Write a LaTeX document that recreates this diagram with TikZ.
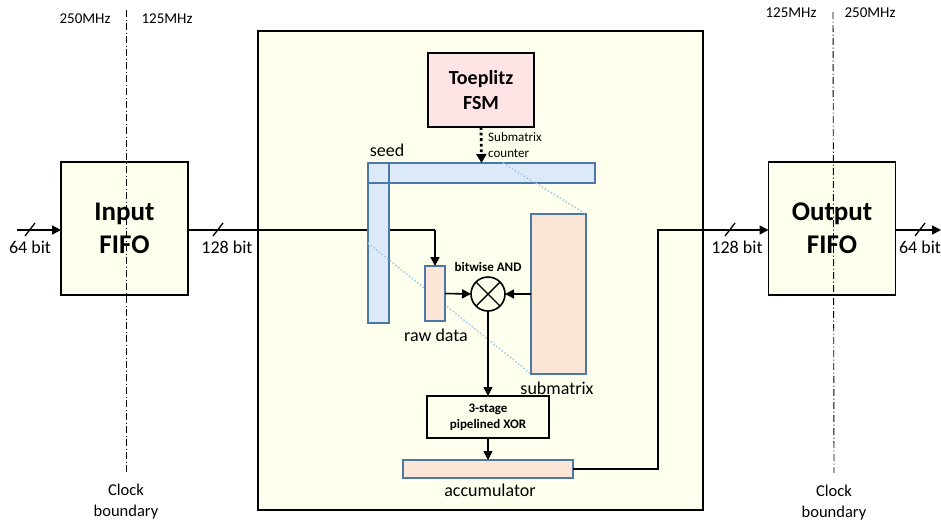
\documentclass[tikz,border=0pt]{standalone}
\usepackage{fontspec}
\setmainfont{Carlito}
\usetikzlibrary{arrows.meta,calc}

\definecolor{cream}{RGB}{255,255,238}
\definecolor{fsmpink}{RGB}{255,228,230}
\definecolor{seedblue}{RGB}{220,233,248}
\definecolor{peach}{RGB}{251,229,214}
\definecolor{edgeblue}{RGB}{75,120,165}
\definecolor{projblue}{RGB}{160,200,235}

\newcommand{\fsz}[2]{\fontsize{#1}{#2}\selectfont}

\tikzset{
  box/.style={draw=black, line width=1.6pt, inner sep=0pt, outer sep=0pt, align=center},
  fifo/.style={box, fill=cream, font=\fsz{27}{33}\bfseries, minimum width=127, minimum height=133},
  reg/.style={draw=edgeblue, line width=1.5pt, inner sep=0pt, outer sep=0pt},
  wire/.style={line width=1.6pt, draw=black},
  arr/.style={wire, -{Triangle[length=9pt,width=9pt]}},
  clockline/.style={line width=0.9pt, dash pattern=on 7pt off 2.5pt on 1pt off 2.5pt},
  busslash/.style={line width=1.3pt},
  lbl/.style={font=\fsz{18}{21}, inner sep=0pt},
  small/.style={font=\fsz{15}{18}, inner sep=0pt},
  tiny/.style={font=\fsz{13}{16}, inner sep=0pt},
  proj/.style={draw=projblue, line width=1.5pt, dash pattern=on 1.5pt off 2pt},
}

\begin{document}
\begin{tikzpicture}[x=1pt,y=-1pt]
\useasboundingbox (0,0) rectangle (941,528);

% core outline
\node[box, line width=2pt, fill=cream, minimum width=445, minimum height=479] (core) at (480.5,270.5) {};

% FIFOs
\node[fifo] (infifo) at (124.5,228.5) {Input\\FIFO};
\node[fifo] (outfifo) at (832,228.5) {Output\\FIFO};

% Toeplitz FSM
\node[box, fill=fsmpink, font=\fsz{20}{25}\bfseries, minimum width=106, minimum height=74] (fsm) at (481,90) {Toeplitz\\FSM};

% input path into the core (drawn below the seed register)
\coordinate (inbend) at (435,230);
\draw[wire] (infifo.east |- inbend) -- (inbend);

% seed register: horizontal and vertical parts
\node[reg, draw=none, fill=seedblue, minimum width=227, minimum height=20] (seedh) at (481.5,173) {};
\node[reg, draw=none, fill=seedblue, minimum width=21, minimum height=160] (seedv) at (378.5,243) {};
\draw[reg] (seedh.north west) rectangle (seedh.south east);
\draw[reg] (seedv.north west) rectangle (seedv.south east);
\node[lbl] (seedlbl) at (387,150) {seed};

% submatrix register and its projection lines
\node[reg, fill=peach, minimum width=55, minimum height=160] (submat) at (558.5,294) {};
\coordinate (projtop) at (503,163);
\coordinate (projbot) at (368,243);
\draw[proj] (projtop) -- (submat.north east);
\draw[proj] (projbot) -- (submat.south west);
\node[lbl] (submatlbl) at (557,388) {submatrix};

% raw data register
\node[reg, fill=peach, minimum width=20, minimum height=55] (raw) at (435,293.5) {};
\node[lbl] (rawlbl) at (436,335) {raw data};
\draw[arr] (inbend) -- (raw.north);

% bitwise AND
\node[draw=black, line width=1.6pt, circle, minimum size=34, inner sep=0pt, outer sep=0pt, fill=cream] (andg) at (488,294) {};
\draw[line width=1.4pt] (andg.north west) -- (andg.south east);
\draw[line width=1.4pt] (andg.north east) -- (andg.south west);
\node[tiny, font=\fsz{13}{16}\bfseries] (andlbl) at (488,267) {bitwise AND};
\draw[arr] (raw.east) -- (andg.west);
\draw[arr] (submat.west) -- (andg.east);

% XOR stage and accumulator
\node[box, font=\fsz{13}{16}\bfseries, minimum width=122, minimum height=42, fill=cream] (xor) at (488,417) {3-stage\\pipelined XOR};
\draw[arr] (andg.south) -- (xor.north);
\node[reg, fill=peach, minimum width=170, minimum height=18] (acc) at (488,469) {};
\node[lbl] (acclbl) at (490,490) {accumulator};
\draw[arr] (xor.south) -- (acc.north);

% FSM drives the submatrix counter
\draw[line width=2.8pt, dash pattern=on 2.8pt off 2.8pt, -{Triangle[length=9pt,width=10pt]}] (fsm.south) -- (seedh.north);
\node[tiny, anchor=west, align=left] (cntlbl) at (488,145) {Submatrix\\counter};

% output path
\coordinate (upturn) at (658,469);
\coordinate (outbend) at (658,230);
\draw[arr] (acc.east) -- (upturn) -- (outbend) -- (outbend -| outfifo.west);

% external ports
\coordinate (inport) at (17,230);
\coordinate (outport) at (941,230);
\draw[arr] (inport) -- (inport -| infifo.west);
\draw[arr] (outport -| outfifo.east) -- (outport);

% bus width slashes
\foreach \sx in {30,218,730,920}
  \draw[busslash] (\sx-5,236) -- (\sx+5,223);
\node[lbl] (w1) at (30,247) {64 bit};
\node[lbl] (w2) at (227,247) {128 bit};
\node[lbl] (w3) at (737,247) {128 bit};
\node[lbl] (w4) at (920,247) {64 bit};

% clock domain boundaries
\coordinate (clkAtop) at (126,10);
\coordinate (clkAbot) at (126,473);
\coordinate (clkBtop) at (833,12);
\coordinate (clkBbot) at (834,473);
\draw[clockline] (clkAtop) -- (clkAbot);
\draw[clockline] (clkBtop) -- (clkBbot);
\node[small] (fa1) at (85,19) {250MHz};
\node[small] (fa2) at (167,19) {125MHz};
\node[small] (fb1) at (791,13) {125MHz};
\node[small] (fb2) at (870,13) {250MHz};
\node[font=\fsz{16.5}{21}, align=center, inner sep=0pt] (cba) at (126,502) {Clock\\boundary};
\node[font=\fsz{16.5}{21}, align=center, inner sep=0pt] (cbb) at (834,503) {Clock\\boundary};
\end{tikzpicture}
\end{document}
